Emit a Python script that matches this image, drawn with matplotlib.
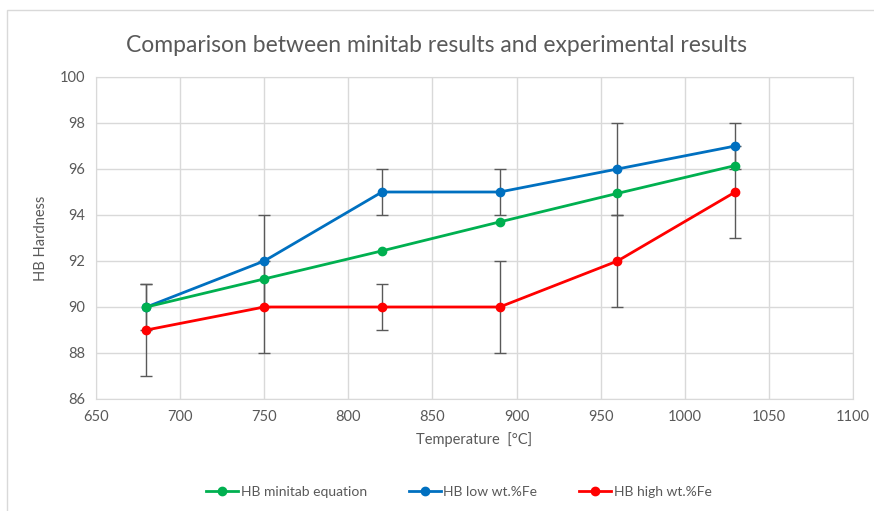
import matplotlib
matplotlib.use('Agg')
import matplotlib.pyplot as plt
from matplotlib.patches import Rectangle
from matplotlib.lines import Line2D

# --- Data ---
TEMPERATURE = [680, 750, 820, 890, 960, 1030]
HB_MINITAB = [90.0, 91.22, 92.44, 93.7, 94.94, 96.15]
HB_LOW_FE = [90, 92, 95, 95, 96, 97]
HB_LOW_FE_ERR = [1, 2, 1, 1, 2, 1]
HB_HIGH_FE = [89, 90, 90, 90, 92, 95]
HB_HIGH_FE_ERR = [2, 2, 1, 2, 2, 2]

SERIES_LABELS = ['HB minitab equation', 'HB low wt.%Fe', 'HB high wt.%Fe']
SERIES_COLORS = ['#00b050', '#0070c0', '#ff0000']

TEXT_COLOR = '#595959'
GRID_COLOR = '#d9d9d9'

plt.rcParams['font.family'] = ['Lato', 'DejaVu Sans']

fig = plt.figure(figsize=(8.74, 5.11), dpi=100)
ax = fig.add_axes([96 / 874, 112 / 511, 757 / 874, 322 / 511])

# chart frame like the excel chart area
fig.patches.append(Rectangle((7 / 874, -0.05), 1.0, (511 - 10) / 511 + 0.05,
                             transform=fig.transFigure, fill=False,
                             edgecolor='#d9d9d9', linewidth=1))

ax.plot(TEMPERATURE, HB_MINITAB, color=SERIES_COLORS[0], marker='o', markersize=6,
        linewidth=2, zorder=4)
ax.errorbar(TEMPERATURE, HB_LOW_FE, yerr=HB_LOW_FE_ERR, color=SERIES_COLORS[1], marker='o',
            markersize=6, linewidth=2, ecolor='#595959', elinewidth=1, capsize=4,
            capthick=1, zorder=3)
ax.errorbar(TEMPERATURE, HB_HIGH_FE, yerr=HB_HIGH_FE_ERR, color=SERIES_COLORS[2], marker='o',
            markersize=6, linewidth=2, ecolor='#595959', elinewidth=1, capsize=4,
            capthick=1, zorder=3)

ax.set_xlim(650, 1100)
ax.set_ylim(86, 100)
ax.set_xticks(range(650, 1101, 50))
ax.set_yticks(range(86, 101, 2))
ax.grid(True, color=GRID_COLOR, linewidth=1)
ax.set_axisbelow(True)
for side in ['top', 'right', 'left', 'bottom']:
    ax.spines[side].set_color(GRID_COLOR)
ax.tick_params(length=0, labelsize=10.5, labelcolor=TEXT_COLOR, pad=8)

ax.set_xlabel('Temperature  [°C]', fontsize=10.5, color=TEXT_COLOR, labelpad=6)
ax.set_ylabel('HB Hardness', fontsize=10.5, color=TEXT_COLOR, labelpad=8)
fig.text(436 / 874, 1 - 46 / 511, 'Comparison between minitab results and experimental results',
         ha='center', va='center', fontsize=16.5, color=TEXT_COLOR)

# legend shows only line + marker, like the excel legend
handles = [Line2D([], [], color=c, marker='o', markersize=6, linewidth=2) for c in SERIES_COLORS]
fig.legend(handles, SERIES_LABELS, loc='center', bbox_to_anchor=(459 / 874, 1 - 492 / 511),
           ncol=3, frameon=False, fontsize=10, labelcolor=TEXT_COLOR,
           handlelength=2.3, handletextpad=0.2, columnspacing=3.0)

plt.savefig('out.png', dpi=100)
